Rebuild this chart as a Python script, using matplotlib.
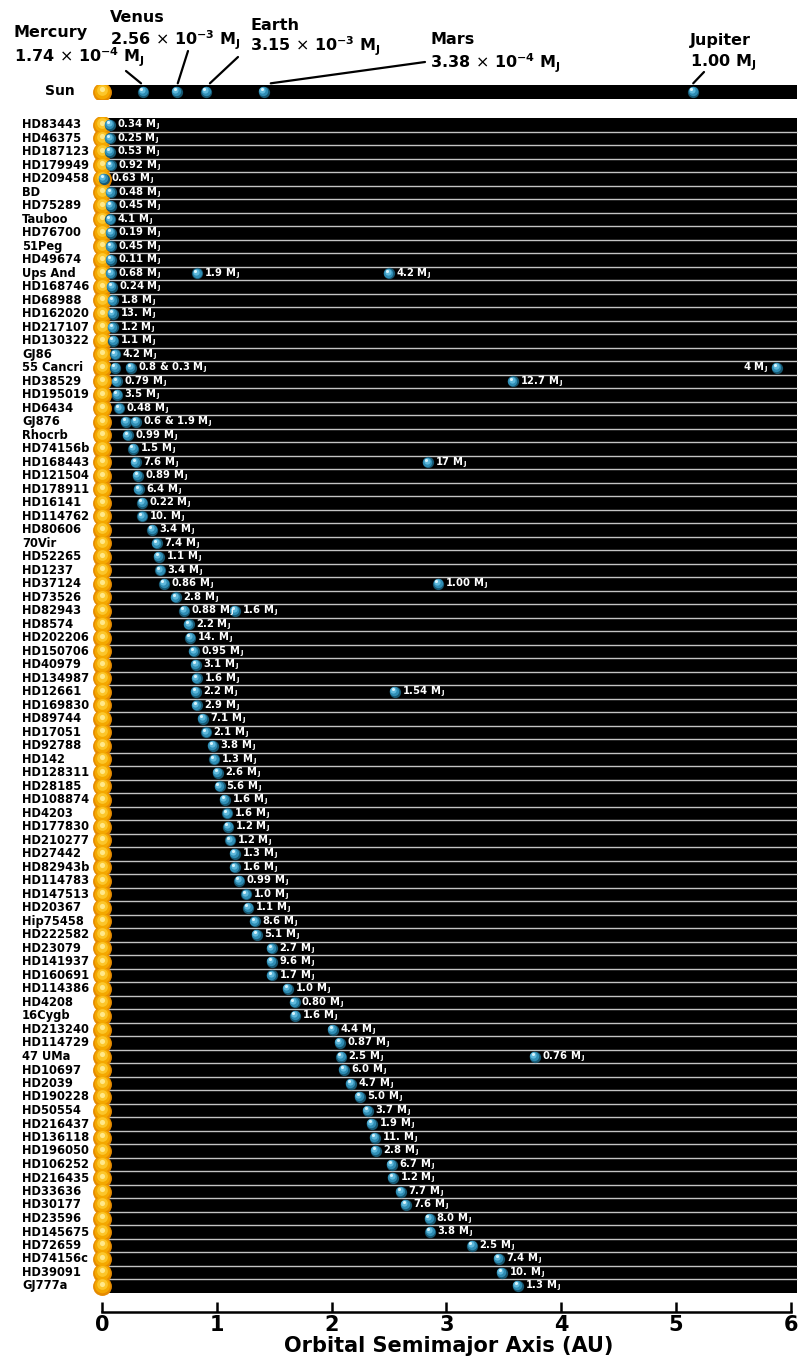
import matplotlib
matplotlib.use("Agg")
import matplotlib.pyplot as plt
import matplotlib.transforms as mtransforms

plt.rcParams['font.family'] = ['DejaVu Sans']
plt.rcParams['mathtext.fontset'] = 'dejavusans'

# ---------------- data ----------------
solar_names = ["Mercury", "Venus", "Earth", "Mars", "Jupiter"]
solar_a = [0.36, 0.65, 0.91, 1.41, 5.15]
solar_mass_text = [r"1.74 $\times$ 10$^{\mathbf{-4}}$ M$_{\mathbf{J}}$",
                   r"2.56 $\times$ 10$^{\mathbf{-3}}$ M$_{\mathbf{J}}$",
                   r"3.15 $\times$ 10$^{\mathbf{-3}}$ M$_{\mathbf{J}}$",
                   r"3.38 $\times$ 10$^{\mathbf{-4}}$ M$_{\mathbf{J}}$",
                   r"1.00 M$_{\mathbf{J}}$"]

star_names = ["HD83443", "HD46375", "HD187123", "HD179949", "HD209458", "BD",
              "HD75289", "Tauboo", "HD76700", "51Peg", "HD49674", "Ups And",
              "HD168746", "HD68988", "HD162020", "HD217107", "HD130322", "GJ86",
              "55 Cancri", "HD38529", "HD195019", "HD6434", "GJ876", "Rhocrb",
              "HD74156b", "HD168443", "HD121504", "HD178911", "HD16141",
              "HD114762", "HD80606", "70Vir", "HD52265", "HD1237", "HD37124",
              "HD73526", "HD82943", "HD8574", "HD202206", "HD150706", "HD40979",
              "HD134987", "HD12661", "HD169830", "HD89744", "HD17051", "HD92788",
              "HD142", "HD128311", "HD28185", "HD108874", "HD4203", "HD177830",
              "HD210277", "HD27442", "HD82943b", "HD114783", "HD147513",
              "HD20367", "Hip75458", "HD222582", "HD23079", "HD141937",
              "HD160691", "HD114386", "HD4208", "16Cygb", "HD213240",
              "HD114729", "47 UMa", "HD10697", "HD2039", "HD190228", "HD50554",
              "HD216437", "HD136118", "HD196050", "HD106252", "HD216435",
              "HD33636", "HD30177", "HD23596", "HD145675", "HD72659",
              "HD74156c", "HD39091", "GJ777a"]

# semimajor axes (AU) of the plotted planets, one list per star
planet_a = [[0.070], [0.070], [0.070], [0.076], [0.015], [0.076],
            [0.076], [0.073], [0.079], [0.079], [0.079], [0.079, 0.83, 2.50],
            [0.087], [0.093], [0.093], [0.093], [0.099], [0.116],
            [0.116, 0.253, 5.88], [0.128, 3.58], [0.134], [0.151], [0.210, 0.297], [0.224],
            [0.273], [0.294, 2.84], [0.312], [0.323], [0.352],
            [0.352], [0.439], [0.480], [0.495], [0.509], [0.544, 2.93],
            [0.646], [0.716, 1.16], [0.757], [0.769], [0.801], [0.818],
            [0.824], [0.818, 2.55], [0.824], [0.879], [0.908], [0.967],
            [0.978], [1.007], [1.024], [1.068], [1.092], [1.100],
            [1.118], [1.155], [1.159], [1.197], [1.258],
            [1.275], [1.334], [1.348], [1.479], [1.479],
            [1.482], [1.618], [1.677], [1.683], [2.011],
            [2.072], [2.085, 3.77], [2.107], [2.168], [2.245], [2.314],
            [2.349], [2.378], [2.384], [2.524], [2.535],
            [2.605], [2.646], [2.853], [2.859], [3.225],
            [3.456], [3.483], [3.62]]

# mass labels (in Jupiter masses) attached to each planet; None = no own label
mass_labels = [["0.34"], ["0.25"], ["0.53"], ["0.92"], ["0.63"], ["0.48"],
               ["0.45"], ["4.1"], ["0.19"], ["0.45"], ["0.11"], ["0.68", "1.9", "4.2"],
               ["0.24"], ["1.8"], ["13."], ["1.2"], ["1.1"], ["4.2"],
               [None, "0.8 & 0.3", "4"], ["0.79", "12.7"], ["3.5"], ["0.48"], [None, "0.6 & 1.9"], ["0.99"],
               ["1.5"], ["7.6", "17"], ["0.89"], ["6.4"], ["0.22"],
               ["10."], ["3.4"], ["7.4"], ["1.1"], ["3.4"], ["0.86", "1.00"],
               ["2.8"], ["0.88", "1.6"], ["2.2"], ["14."], ["0.95"], ["3.1"],
               ["1.6"], ["2.2", "1.54"], ["2.9"], ["7.1"], ["2.1"], ["3.8"],
               ["1.3"], ["2.6"], ["5.6"], ["1.6"], ["1.6"], ["1.2"],
               ["1.2"], ["1.3"], ["1.6"], ["0.99"], ["1.0"],
               ["1.1"], ["8.6"], ["5.1"], ["2.7"], ["9.6"],
               ["1.7"], ["1.0"], ["0.80"], ["1.6"], ["4.4"],
               ["0.87"], ["2.5", "0.76"], ["6.0"], ["4.7"], ["5.0"], ["3.7"],
               ["1.9"], ["11."], ["2.8"], ["6.7"], ["1.2"],
               ["7.7"], ["7.6"], ["8.0"], ["3.8"], ["2.5"],
               ["7.4"], ["10."], ["1.3"]]

left_labels = {("55 Cancri", 2)}   # labels drawn on the left of the planet

x_ticks = [0, 1, 2, 3, 4, 5, 6]
x_label = "Orbital Semimajor Axis (AU)"

# ---------------- layout ----------------
W, H = 802, 1361
X0PX, SCALE = 102.0, 114.8      # pixel of x=0 and pixels per AU
ROW0, ROWH = 125.0, 13.5        # pixel of first row centre, row height


def frame(x0, y0, x1, y1):
    return [x0 / W, 1 - y1 / H, (x1 - x0) / W, (y1 - y0) / H]


def px2x(p):
    return (p - X0PX) / SCALE


AX_L, AX_R = 88, 800
xlim = (px2x(AX_L), px2x(AX_R))
bar_left, bar_right = px2x(107), px2x(797)

fig = plt.figure(figsize=(W / 100, H / 100), dpi=100)
fig.patch.set_facecolor("white")

SUN_COLORS = [("#e58a00", 185), ("#f4a800", 125), ("#fcc62a", 60), ("#ffe88a", 14)]
PL_COLORS = [("#17566f", 66), ("#2f8db4", 46), ("#5fb9dc", 20), ("#d6f3fc", 5)]


def draw_sun(ax, ys):
    for k, (c, s) in enumerate(SUN_COLORS):
        ax.scatter([0.0] * len(ys), [y - 0.06 * k for y in ys], s=s, color=c,
                   linewidths=0, zorder=4 + k * 0.1)


def draw_planets(ax, xs, ys):
    for k, (c, s) in enumerate(PL_COLORS):
        ax.scatter([x - 0.006 * k for x in xs], [y - 0.07 * k for y in ys], s=s,
                   color=c, linewidths=0, zorder=6 + k * 0.1)


def mass_text(t):
    return t + r" M$_{\,\mathbf{J}}$"


# ---------------- main panel ----------------
n = len(star_names)
ax = fig.add_axes(frame(AX_L, ROW0 - 0.556 * ROWH, AX_R, 1312))
ax.set_xlim(*xlim)
top_row = -0.556
bottom_row = (1312 - ROW0) / ROWH
ax.set_ylim(bottom_row, top_row)

rows = list(range(n))
ax.barh(rows, [bar_right - bar_left] * n, left=bar_left, height=1.0,
        color="black", zorder=1, linewidth=0)
ax.hlines([r + 0.5 for r in rows[:-1]], bar_left, bar_right, color="#c4c4c4",
          lw=1.0, zorder=2)
draw_sun(ax, rows)

for r, (name, alist, labs) in enumerate(zip(star_names, planet_a, mass_labels)):
    draw_planets(ax, alist, [r] * len(alist))
    for j, (a, lab) in enumerate(zip(alist, labs)):
        if lab is None:
            continue
        if (name, j) in left_labels:
            ax.annotate(mass_text(lab), (a, r), xytext=(-6, 0),
                        textcoords="offset points", ha="right", va="center",
                        color="white", fontsize=7.2, fontweight="bold", zorder=8)
        else:
            ax.annotate(mass_text(lab), (a, r), xytext=(5, 0),
                        textcoords="offset points", ha="left", va="center",
                        color="white", fontsize=7.2, fontweight="bold", zorder=8)

trans = mtransforms.blended_transform_factory(fig.transFigure, ax.transData)
for r, name in enumerate(star_names):
    ax.text(22 / W, r, name, transform=trans, ha="left", va="center",
            fontsize=8.3, fontweight="heavy", color="black")

for s in ["left", "right", "top"]:
    ax.spines[s].set_visible(False)
ax.spines["bottom"].set_bounds(x_ticks[0], x_ticks[-1])
ax.spines["bottom"].set_linewidth(1.8)
ax.set_yticks([])
ax.set_xticks(x_ticks)
ax.set_xticklabels([str(t) for t in x_ticks], fontsize=15, fontweight="heavy")
ax.tick_params(axis="x", direction="in", length=7.5, width=1.8, pad=2)
ax.set_facecolor("none")

fig.text(449 / W, 1 - 1346 / H, x_label, ha="center", va="center",
         fontsize=15, fontweight="heavy")

# ---------------- solar system panel ----------------
axs = fig.add_axes(frame(AX_L, 85, AX_R, 99))
axs.set_xlim(*xlim)
axs.set_ylim(0.5, -0.5)
axs.axis("off")
axs.barh([0], [bar_right - bar_left], left=bar_left, height=1.0, color="black",
         linewidth=0, zorder=1)
draw_sun(axs, [0])
draw_planets(axs, solar_a, [0] * len(solar_a))
fig.text(45 / W, 1 - 91 / H, "Sun", ha="left", va="center", fontsize=10,
         fontweight="heavy")

# label blocks (left x, name y, mass y) and leader-line start in pixels
label_pos = [(14, 33, 57), (110, 17, 40), (250, 25, 46), (430, 40, 63), (690, 40, 63)]
leader_start = [(126, 71), (188, 51), (238, 57), (425, 62), (704, 72)]
leader_dx = [-0.02, 0.01, 0.03, 0.06, 0.0]
for name, a, mt, (lx, ny, my), (sx, sy), dx in zip(solar_names, solar_a, solar_mass_text,
                                                   label_pos, leader_start, leader_dx):
    fig.text(lx / W, 1 - ny / H, name, ha="left", va="center", fontsize=11.5,
             fontweight="heavy")
    fig.text(lx / W, 1 - my / H, mt, ha="left", va="center", fontsize=11.5,
             fontweight="heavy")
    axs.annotate("", xy=(a + dx, -0.62), xycoords="data",
                 xytext=(sx, H - sy), textcoords="figure pixels",
                 arrowprops=dict(arrowstyle="-", lw=1.6, color="black",
                                 shrinkA=0, shrinkB=0),
                 annotation_clip=False)

fig.savefig("out.png", dpi=100)
